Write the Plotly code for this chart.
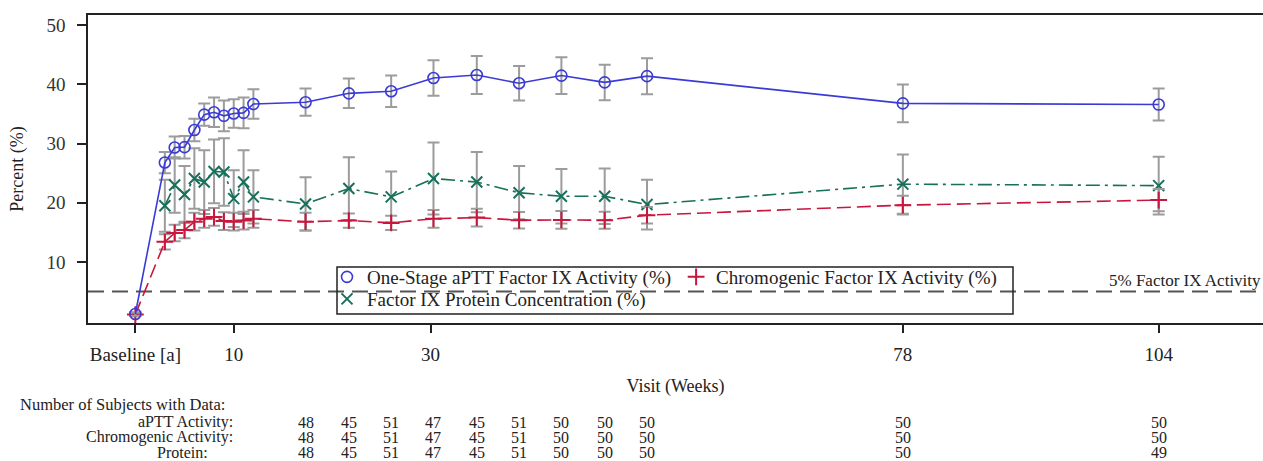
import plotly.graph_objects as go

# ---------------- data ----------------
visit_weeks = [0, 3, 4, 5, 6, 7, 8, 9, 10, 11, 12,
               17.3, 21.7, 26.0, 30.3, 34.7, 39.0, 43.3, 47.7, 52.0, 78, 104]

aptt_mean = [1.2, 26.8, 29.35, 29.4, 32.3, 34.9, 35.3, 34.7, 35.1, 35.2, 36.7,
             37.0, 38.5, 38.85, 41.1, 41.6, 40.2, 41.5, 40.35, 41.4, 36.8, 36.6]
aptt_err = [0.3, 1.8, 1.85, 1.9, 1.9, 1.9, 2.5, 2.6, 2.4, 2.6, 2.5,
            2.3, 2.5, 2.65, 3.0, 3.2, 2.9, 3.1, 3.0, 3.05, 3.2, 2.7]

chromo_mean = [1.1, 13.4, 14.9, 15.4, 16.8, 17.3, 17.6, 16.9, 16.8, 17.0, 17.3,
               16.8, 17.0, 16.6, 17.3, 17.5, 17.05, 17.1, 17.05, 17.9, 19.6, 20.45]
chromo_err = [0.3, 1.3, 1.4, 1.4, 1.5, 1.5, 1.5, 1.5, 1.5, 1.5, 1.5,
              1.5, 1.2, 1.2, 1.5, 1.5, 1.4, 1.5, 1.45, 1.4, 1.6, 1.9]

# no protein value shown at baseline
protein_mean = [None, 19.5, 23.0, 21.4, 24.1, 23.5, 25.3, 25.2, 20.7, 23.5, 21.0,
                19.8, 22.4, 21.0, 24.1, 23.5, 21.7, 21.1, 21.1, 19.7, 23.15, 22.9]
protein_err = [None, 4.4, 4.7, 4.8, 5.1, 5.4, 5.4, 5.7, 4.8, 5.4, 4.5,
               4.5, 5.3, 4.3, 6.1, 5.1, 4.5, 4.6, 4.7, 4.2, 5.0, 4.9]

tick_vals = [0, 10, 30, 78, 104]
tick_text = ["Baseline [a]", "10", "30", "78", "104"]

table_weeks = [17.3, 21.7, 26.0, 30.3, 34.7, 39.0, 43.3, 47.7, 52.0, 78, 104]
n_aptt = [48, 45, 51, 47, 45, 51, 50, 50, 50, 50, 50]
n_chromo = [48, 45, 51, 47, 45, 51, 50, 50, 50, 50, 50]
n_protein = [48, 45, 51, 47, 45, 51, 50, 50, 50, 50, 49]

threshold = 5

# ---------------- style ----------------
FONT = "Liberation Serif"
BLUE = "#3a3ad6"
RED = "#c8163c"
GREEN = "#16705a"
ERR = "#9c9c9c"
TXT = "#222222"

W, H = 1263, 461
ML, MR, MT, MB = 88, 0, 15, 138
PH = H - MT - MB


def py(pix):
    """pixel row -> paper y"""
    return (H - MB - pix) / PH


def px(pix):
    return (pix - ML) / (W - ML - MR)


fig = go.Figure()


def err(vals):
    return dict(type="data", array=vals, visible=True, color=ERR,
                thickness=2, width=6)


fig.add_trace(go.Scatter(
    x=visit_weeks, y=protein_mean, mode="lines+markers", showlegend=False,
    line=dict(color=GREEN, width=1.6, dash="14px,5px,3px,5px"),
    marker=dict(symbol="x-thin", size=11, color=GREEN,
                line=dict(color=GREEN, width=2)),
    error_y=err(protein_err)))

fig.add_trace(go.Scatter(
    x=visit_weeks, y=chromo_mean, mode="lines+markers", showlegend=False,
    line=dict(color=RED, width=1.6, dash="14px,6px"),
    marker=dict(symbol="cross-thin", size=12, color=RED,
                line=dict(color=RED, width=2)),
    error_y=err(chromo_err)))

fig.add_trace(go.Scatter(
    x=visit_weeks, y=aptt_mean, mode="lines+markers", showlegend=False,
    line=dict(color=BLUE, width=1.6),
    marker=dict(symbol="circle-open", size=11, color=BLUE,
                line=dict(color=BLUE, width=1.6)),
    error_y=err(aptt_err)))

# legend-only entries (marker symbols only)
fig.add_trace(go.Scatter(
    x=[None], y=[None], mode="markers", name="One-Stage aPTT Factor IX Activity (%)",
    marker=dict(symbol="circle-open", size=11, color=BLUE,
                line=dict(color=BLUE, width=1.6)), legend="legend"))
fig.add_trace(go.Scatter(
    x=[None], y=[None], mode="markers", name="Chromogenic Factor IX Activity (%)",
    marker=dict(symbol="cross-thin", size=12, color=RED,
                line=dict(color=RED, width=2)), legend="legend"))
fig.add_trace(go.Scatter(
    x=[None], y=[None], mode="markers", name="Factor IX Protein Concentration (%)",
    marker=dict(symbol="x-thin", size=11, color=GREEN,
                line=dict(color=GREEN, width=2)), legend="legend2"))

# threshold line
fig.add_shape(type="line", xref="paper", x0=0, x1=1, yref="y", y0=threshold, y1=threshold,
              line=dict(color="#555555", width=2, dash="16px,8px"), layer="below")

# legend frame
fig.add_shape(type="rect", xref="paper", yref="paper",
              x0=px(337), x1=px(1013), y0=py(314), y1=py(267),
              line=dict(color=TXT, width=1.5))

annotations = [
    dict(text="5% Factor IX Activity", xref="paper", x=1, xanchor="right",
         yref="y", y=threshold, yanchor="bottom", yshift=0, showarrow=False,
         font=dict(family=FONT, size=17, color=TXT)),
    dict(text="Number of Subjects with Data:", xref="paper", x=px(18), xanchor="left",
         yref="paper", y=py(404), yanchor="middle", showarrow=False,
         font=dict(family=FONT, size=16.5, color=TXT)),
]
row_y = [422, 437, 452]
row_labels = ["aPTT Activity:", "Chromogenic Activity:", "Protein:"]
row_right = [235, 235, 210]
for lab, yy, xr in zip(row_labels, row_y, row_right):
    annotations.append(dict(text=lab, xref="paper", x=px(xr), xanchor="right",
                            yref="paper", y=py(yy), yanchor="middle", showarrow=False,
                            font=dict(family=FONT, size=16, color=TXT)))
for counts, yy in zip([n_aptt, n_chromo, n_protein], row_y):
    for xw, n in zip(table_weeks, counts):
        annotations.append(dict(text=str(n), xref="x", x=xw, xanchor="center",
                                yref="paper", y=py(yy), yanchor="middle", showarrow=False,
                                font=dict(family=FONT, size=16, color=TXT)))

fig.update_layout(
    width=W, height=H,
    margin=dict(l=ML, r=MR, t=MT, b=MB, pad=0, autoexpand=False),
    paper_bgcolor="white", plot_bgcolor="white",
    font=dict(family=FONT, size=18, color=TXT),
    annotations=annotations,
    legend=dict(orientation="h", x=px(327), xanchor="left", y=py(258), yanchor="top",
                bgcolor="rgba(0,0,0,0)", borderwidth=0,
                font=dict(family=FONT, size=19, color=TXT)),
    legend2=dict(orientation="h", x=px(327), xanchor="left", y=py(280), yanchor="top",
                 bgcolor="rgba(0,0,0,0)", borderwidth=0,
                 font=dict(family=FONT, size=19, color=TXT)),
    xaxis=dict(range=[-4.81, 114.6], tickvals=tick_vals, ticktext=tick_text,
               automargin=False,
               showgrid=False, zeroline=False, showline=True, linecolor=TXT,
               linewidth=1.5, mirror=True, ticks="outside", ticklen=8, tickwidth=1.5,
               tickcolor=TXT, ticklabelstandoff=5,
               tickfont=dict(family=FONT, size=19, color=TXT),
               title=dict(text="Visit (Weeks)", standoff=16,
                          font=dict(family=FONT, size=18, color=TXT))),
    yaxis=dict(range=[-0.32, 51.74], tickvals=[10, 20, 30, 40, 50],
               automargin=False,
               showgrid=False, zeroline=False, showline=True, linecolor=TXT,
               linewidth=1.5, ticks="outside", ticklen=9, tickwidth=1.5,
               tickcolor=TXT, ticklabelstandoff=8,
               tickfont=dict(family=FONT, size=19, color="#333333"),
               title=dict(text="Percent (%)", standoff=18,
                          font=dict(family=FONT, size=18, color=TXT))),
)

fig.write_html("out.html", config={"displayModeBar": False},
               post_script="document.body.style.margin='0px';document.body.style.overflow='hidden';")
